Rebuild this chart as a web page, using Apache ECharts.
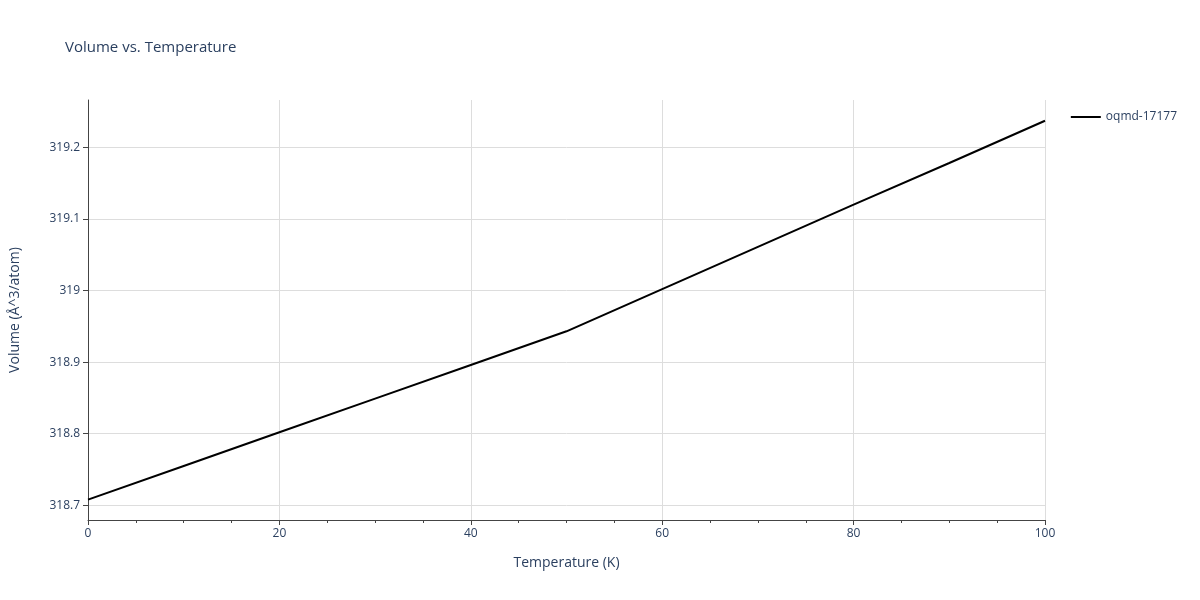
<!DOCTYPE html>
<html>
<head>
<meta charset="utf-8">
<script src="https://cdn.jsdelivr.net/npm/echarts@6/dist/echarts.min.js"></script>
<style>html,body{margin:0;padding:0;background:#fff}#chart{width:1200px;height:600px}</style>
</head>
<body>
<div id="chart"></div>
<script>
const temperatures = [0, 10, 20, 30, 40, 50, 60, 70, 80, 90, 100]
const volumes = [318.708, 318.755, 318.802, 318.849, 318.896, 318.943, 319.002, 319.061, 319.120, 319.178, 319.237]
const yTicks = [318.7, 318.8, 318.9, 319, 319.1, 319.2]
const seriesName = 'oqmd-17177'
const textColor = '#2a3f5f'

let chart = echarts.init(document.getElementById('chart'))
let option = {
	title: {
		text: 'Volume vs. Temperature',
		left: 60,
		top: 35,
		textStyle: { fontSize: 15, fontWeight: 'normal', color: textColor, fontFamily: 'Open Sans' },
	},
	legend: {
		data: [seriesName],
		right: 18,
		top: 106,
		icon: 'path://M0,0 L30,0 L30,2 L0,2 Z',
		itemWidth: 30,
		itemHeight: 2,
		textStyle: { fontSize: 12, color: textColor, fontFamily: 'Open Sans' },
	},
	grid: { left: 79, right: 155, top: 100, bottom: 80, containLabel: false },
	xAxis: {
		type: 'value',
		min: 0,
		max: 100,
		interval: 20,
		name: 'Temperature (K)',
		nameLocation: 'middle',
		nameGap: 36,
		nameTextStyle: { fontSize: 14, color: textColor, fontFamily: 'Open Sans' },
		axisLine: { show: true, onZero: false, lineStyle: { color: '#444' } },
		axisTick: { show: true, length: 5, lineStyle: { color: '#444' } },
		minorTick: { show: true, splitNumber: 4, length: 3, lineStyle: { color: '#444' } },
		axisLabel: { fontSize: 12, color: textColor, fontFamily: 'Open Sans', margin: 8 },
		splitLine: { show: true, lineStyle: { color: '#ddd' } },
	},
	yAxis: {
		type: 'value',
		min: 318.6795,
		max: 319.266,
		name: 'Volume (Å^3/atom)',
		nameLocation: 'middle',
		nameGap: 66,
		nameTextStyle: { fontSize: 14, color: textColor, fontFamily: 'Open Sans' },
		axisLine: { show: true, onZero: false, lineStyle: { color: '#444' } },
		axisTick: { show: true, length: 5, customValues: yTicks, lineStyle: { color: '#444' } },
		axisLabel: { fontSize: 12, color: textColor, fontFamily: 'Open Sans', customValues: yTicks, showMinLabel: true, showMaxLabel: true },
		splitLine: { show: false },
	},
	series: [
		{
			name: seriesName,
			type: 'line',
			data: temperatures.map((t, i) => [t, volumes[i]]),
			showSymbol: false,
			lineStyle: { color: '#000', width: 2 },
			itemStyle: { color: '#000' },
			markLine: {
				silent: true,
				symbol: 'none',
				label: { show: false },
				lineStyle: { color: '#ddd', type: 'solid', width: 1 },
				data: yTicks.map(v => ({ yAxis: v })),
				z: 0,
			},
		},
	],
}
chart.setOption(option)
</script>
</body>
</html>
